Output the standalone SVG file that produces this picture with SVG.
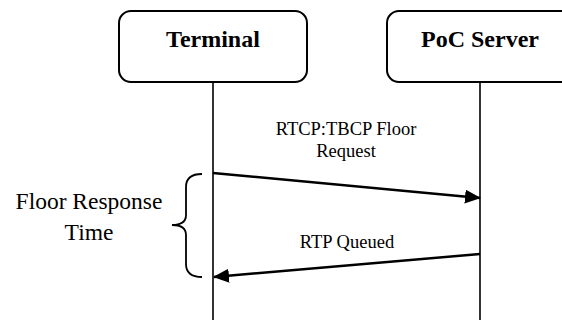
<svg xmlns="http://www.w3.org/2000/svg" width="562" height="320" viewBox="0 0 562 320">
<style>
.box{fill:#fff;stroke:#000;stroke-width:2}
.life{stroke:#000;stroke-width:1.6;fill:none}
.msg{stroke:#000;stroke-width:2.5;fill:none}
text{font-family:'Liberation Serif','Times New Roman','DejaVu Serif',serif;fill:#000;text-anchor:middle}
.title{font-weight:bold;font-size:24px}
.lbl{font-size:18.5px}
.big{font-size:23.5px}
</style>
<defs>
<marker id="ah" markerUnits="userSpaceOnUse" markerWidth="16" markerHeight="14" refX="15" refY="7" orient="auto">
<path d="M0,0 L16,7 L0,14 Z" fill="#000"/>
</marker>
</defs>
<rect width="562" height="320" fill="#fff"/>
<g id="terminal">
<rect class="box" x="119" y="11" width="188" height="71" rx="12"/>
<text class="title" x="213" y="47">Terminal</text>
<line class="life" x1="213" y1="82" x2="213" y2="320"/>
</g>
<g id="poc-server">
<rect class="box" x="387" y="11" width="190" height="71" rx="12"/>
<text class="title" x="480" y="47">PoC Server</text>
<line class="life" x1="480" y1="82" x2="480" y2="320"/>
</g>
<g id="connectors">
<line class="msg" x1="213" y1="173" x2="480" y2="198" marker-end="url(#ah)"/>
<text class="lbl" x="346" y="135">RTCP:TBCP Floor</text>
<text class="lbl" x="346" y="157">Request</text>
<line class="msg" x1="480" y1="254" x2="214" y2="277" marker-end="url(#ah)"/>
<text class="lbl" x="347" y="248">RTP Queued</text>
</g>
<g id="floor-response-time">
<path d="M202,174 C191,174 186,178 186,187 L186,215 C186,222 181,225 172,225 C181,225 186,228 186,235 L186,264 C186,273 191,277 202,277" fill="none" stroke="#000" stroke-width="1.8"/>
<text class="big" x="89" y="209">Floor Response</text>
<text class="big" x="89" y="240">Time</text>
</g>
</svg>
